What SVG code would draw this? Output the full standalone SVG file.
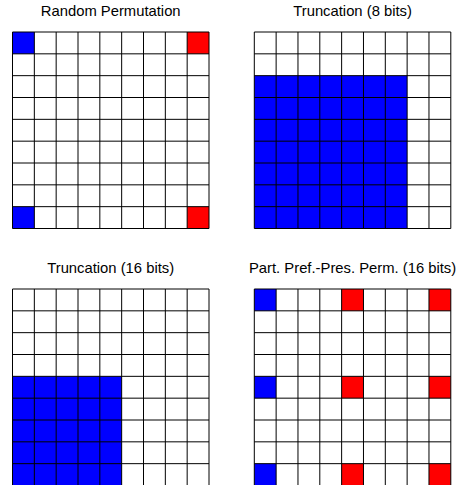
<svg xmlns="http://www.w3.org/2000/svg" xmlns:xlink="http://www.w3.org/1999/xlink" width="461" height="485" viewBox="0 0 461 485">
<style>
.title{font-family:"Liberation Sans",Arial,sans-serif;font-size:14.8px;fill:#000;text-anchor:middle}
.b{fill:#0000ff}
.r{fill:#ff0000}
.grid{fill:none;stroke:#000;stroke-width:1}
</style>
<defs>
<path id="grid" class="grid" d="M0,0H196.5V196.5H0Z M21.83,0V196.5 M43.67,0V196.5 M65.5,0V196.5 M87.33,0V196.5 M109.17,0V196.5 M131,0V196.5 M152.83,0V196.5 M174.67,0V196.5 M0,21.83H196.5 M0,43.67H196.5 M0,65.5H196.5 M0,87.33H196.5 M0,109.17H196.5 M0,131H196.5 M0,152.83H196.5 M0,174.67H196.5"/>
</defs>
<rect width="461" height="485" fill="#fff"/>
<g id="random-permutation">
<text class="title" x="110.7" y="16">Random Permutation</text>
<g transform="translate(12.5,32)">
<rect class="b" x="0" y="0" width="21.83" height="21.83"/>
<rect class="r" x="174.67" y="0" width="21.83" height="21.83"/>
<rect class="b" x="0" y="174.67" width="21.83" height="21.83"/>
<rect class="r" x="174.67" y="174.67" width="21.83" height="21.83"/>
<use xlink:href="#grid"/>
</g>
</g>
<g id="truncation-8">
<text class="title" x="352.6" y="16">Truncation (8 bits)</text>
<g transform="translate(254.3,32)">
<rect class="b" x="0" y="43.67" width="152.83" height="152.83"/>
<use xlink:href="#grid"/>
</g>
</g>
<g id="truncation-16">
<text class="title" x="110.7" y="273">Truncation (16 bits)</text>
<g transform="translate(12.5,289)">
<rect class="b" x="0" y="87.33" width="109.17" height="109.17"/>
<use xlink:href="#grid"/>
</g>
</g>
<g id="part-pref-pres-perm">
<text class="title" x="352.6" y="273">Part. Pref.-Pres. Perm. (16 bits)</text>
<g transform="translate(254.3,289)">
<rect class="b" x="0" y="0" width="21.83" height="21.83"/>
<rect class="r" x="87.33" y="0" width="21.83" height="21.83"/>
<rect class="r" x="174.67" y="0" width="21.83" height="21.83"/>
<rect class="b" x="0" y="87.33" width="21.83" height="21.83"/>
<rect class="r" x="87.33" y="87.33" width="21.83" height="21.83"/>
<rect class="r" x="174.67" y="87.33" width="21.83" height="21.83"/>
<rect class="b" x="0" y="174.67" width="21.83" height="21.83"/>
<rect class="r" x="87.33" y="174.67" width="21.83" height="21.83"/>
<rect class="r" x="174.67" y="174.67" width="21.83" height="21.83"/>
<use xlink:href="#grid"/>
</g>
</g>
<g id="connectors"/>
</svg>
